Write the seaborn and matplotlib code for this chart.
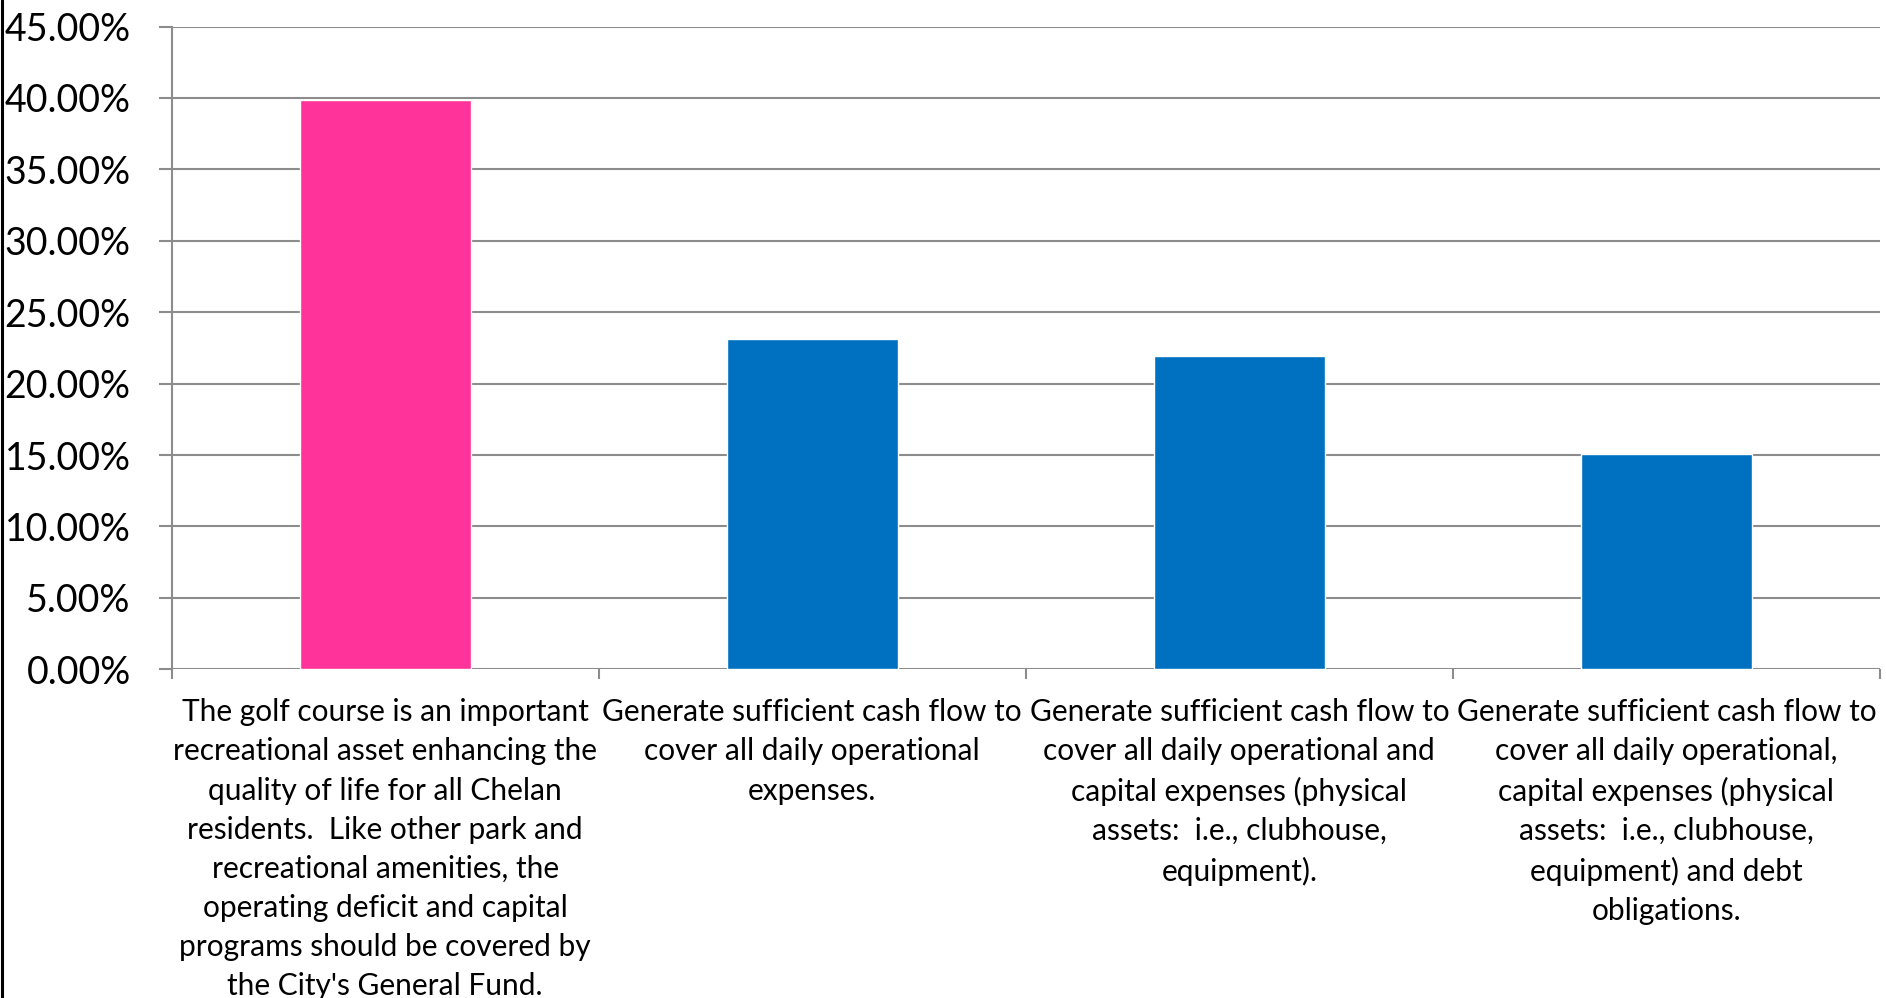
import matplotlib
matplotlib.use("Agg")
import matplotlib.pyplot as plt
import seaborn as sns
import pandas as pd
from matplotlib.ticker import FuncFormatter, MultipleLocator, FixedLocator
from matplotlib.lines import Line2D

categories = [
    "The golf course is an important\nrecreational asset enhancing the\nquality of life for all Chelan\nresidents.  Like other park and\nrecreational amenities, the\noperating deficit and capital\nprograms should be covered by\nthe City's General Fund.",
    "Generate sufficient cash flow to\ncover all daily operational\nexpenses.",
    "Generate sufficient cash flow to\ncover all daily operational and\ncapital expenses (physical\nassets:  i.e., clubhouse,\nequipment).",
    "Generate sufficient cash flow to\ncover all daily operational,\ncapital expenses (physical\nassets:  i.e., clubhouse,\nequipment) and debt\nobligations.",
]
shares = [0.3987, 0.2311, 0.2194, 0.1508]
bar_colors = ["#FF3399", "#0070C0", "#0070C0", "#0070C0"]

sns.set_style("white")
plt.rcParams["font.family"] = ["Lato", "DejaVu Sans"]

df = pd.DataFrame({"option": categories, "share": shares})

fig = plt.figure(figsize=(18.86, 9.98), dpi=100)
ax = fig.add_axes([0.0910, 0.3294, 0.9058, 0.6440])

sns.barplot(data=df, x="option", y="share", hue="option",
            palette=bar_colors, width=0.4, saturation=1,
            legend=False, ax=ax, zorder=3)

grid_color = "#8c8c8c"
ax.set_ylim(0, 0.45)
ax.set_xlim(-0.5, len(categories) - 0.5)
ax.yaxis.set_major_locator(MultipleLocator(0.05))
ax.yaxis.set_major_formatter(FuncFormatter(lambda v, _: f"{v * 100:.2f}%"))
ax.grid(axis="y", color=grid_color, linewidth=1.5, zorder=0)
ax.set_axisbelow(True)

for side in ["top", "right", "bottom"]:
    ax.spines[side].set_visible(False)
ax.spines["left"].set_color(grid_color)
ax.spines["left"].set_linewidth(1.5)

ax.tick_params(axis="y", which="major", length=9.5, width=1.5, color=grid_color,
               labelsize=27, labelcolor="black", pad=20, left=True)
ax.xaxis.set_minor_locator(FixedLocator([i - 0.5 for i in range(len(categories) + 1)]))
ax.tick_params(axis="x", which="minor", length=7, width=1.5, color=grid_color, bottom=True)
ax.tick_params(axis="x", which="major", length=0, pad=21, labelsize=21.5, labelcolor="black")
for lbl in ax.get_xticklabels():
    lbl.set_linespacing(1.48)
    lbl.set_va("top")
    lbl.set_ha("center")

ax.set_xlabel("")
ax.set_ylabel("")

fig.add_artist(Line2D([0.0012, 0.0012], [0, 1], transform=fig.transFigure,
                      color="black", linewidth=2.2))

fig.savefig("out.png", dpi=100)
